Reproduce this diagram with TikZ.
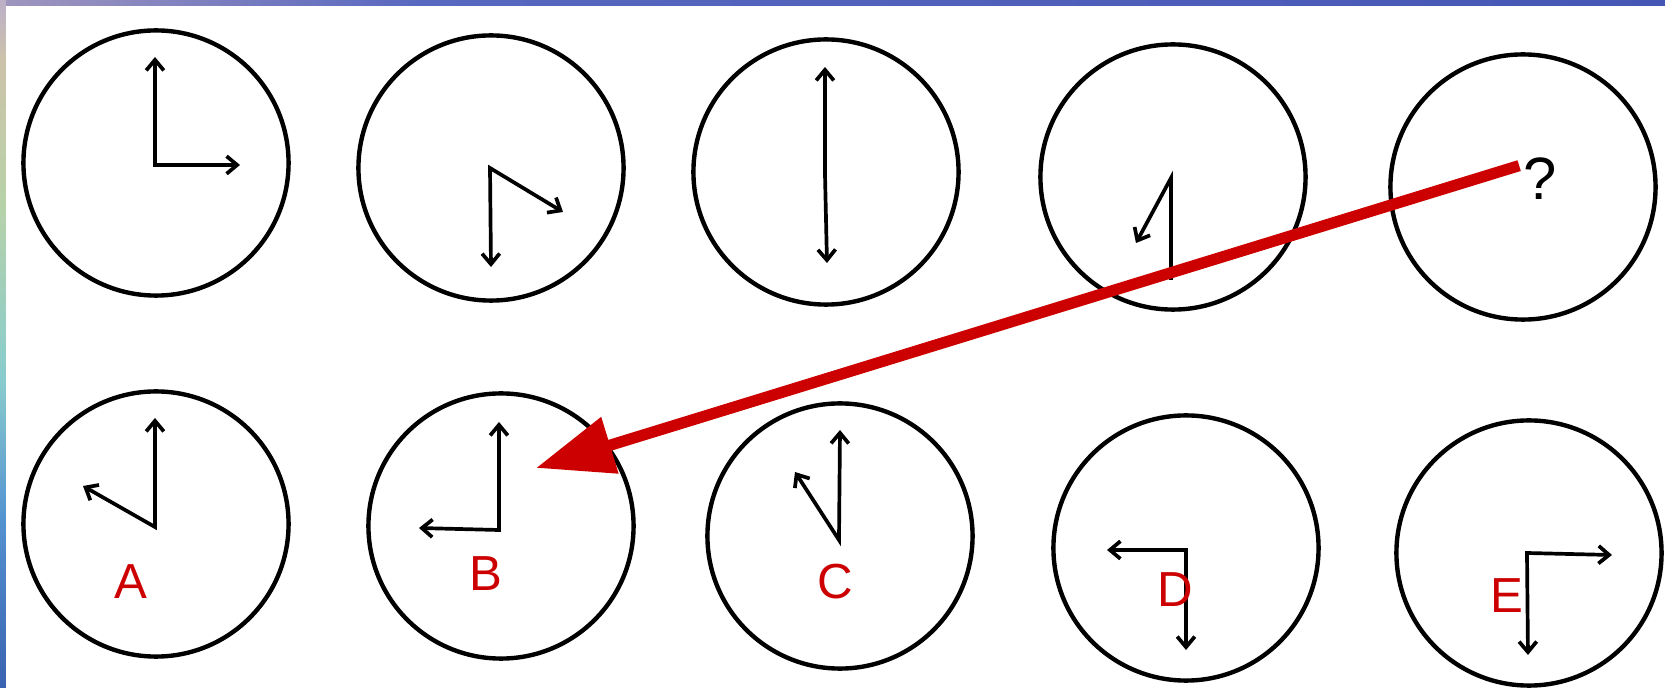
\documentclass[tikz,border=0pt]{standalone}
\usepackage{fontspec}
\setmainfont{Liberation Sans}
\usetikzlibrary{arrows.meta}
\definecolor{ansred}{RGB}{204,0,0}
\definecolor{barL}{RGB}{160,150,190}
\definecolor{barM}{RGB}{88,104,192}
\definecolor{barR}{RGB}{70,86,180}
\definecolor{sideA}{RGB}{188,176,200}
\definecolor{sideB}{RGB}{204,194,170}
\definecolor{sideC}{RGB}{184,210,168}
\definecolor{sideD}{RGB}{136,204,206}
\definecolor{sideE}{RGB}{84,146,208}
\definecolor{sideF}{RGB}{58,98,176}

\begin{document}
\begin{tikzpicture}[x=0.01cm,y=-0.01cm,
  clock/.style={draw,circle,line width=1.25pt,minimum size=2.65cm,inner sep=0pt},
  hand/.style={line width=1.05pt,{Straight Barb[length=3pt,width=5pt]}-{Straight Barb[length=3pt,width=5pt]}},
  lbl/.style={text=ansred,font=\fontsize{14}{17}\selectfont,inner sep=0pt}]
  \useasboundingbox (0,0) rectangle (1665,688);
  \fill[white] (0,0) rectangle (1665,688);
  % frame of the slide
  \shade[left color=barL,right color=barM] (0,0) rectangle (420,6);
  \shade[left color=barM,right color=barR] (420,0) rectangle (1665,6);
  \shade[top color=sideA,bottom color=sideB] (0,0) rectangle (6,60);
  \shade[top color=sideB,bottom color=sideC] (0,60) rectangle (6,200);
  \shade[top color=sideC,bottom color=sideD] (0,200) rectangle (6,380);
  \shade[top color=sideD,bottom color=sideE] (0,380) rectangle (6,520);
  \shade[top color=sideE,bottom color=sideF] (0,520) rectangle (6,688);

  % top row
  \node[clock] (c1) at (156,163) {};
  \node[clock] (c2) at (491,168) {};
  \node[clock] (c3) at (826,172) {};
  \node[clock] (c4) at (1173,177) {};
  \node[clock] (c5) at (1523,187) {};
  \draw[hand] (155,57) -- (155,165) -- (240,165);
  \draw[hand] (491,267) -- (490,168) -- (563,212);
  \draw[hand] (825,67) -- (825,174) -- (827,263);
  \draw[line width=1.05pt,-{Straight Barb[length=3pt,width=5pt]}] (1171,280) -- (1171,178) -- (1136,243);
  \node[font=\fontsize{17}{20}\selectfont,inner sep=0pt] (q) at (1540,179) {?};

  % bottom row
  \node[clock] (ca) at (156,524) {};
  \node[clock] (cb) at (501,526) {};
  \node[clock] (cc) at (840,536) {};
  \node[clock] (cd) at (1186,548) {};
  \node[clock] (ce) at (1529,553) {};
  \draw[hand] (155,418) -- (155,527) -- (83,486);
  \draw[hand] (499,422) -- (499,530) -- (419,528);
  \draw[hand] (840,430) -- (839,540) -- (795,472);
  \draw[hand] (1107,550) -- (1186,550) -- (1186,650);
  \draw[hand] (1612,555) -- (1527,553) -- (1528,655);
  \node[lbl] (la) at (131,582) {A};
  \node[lbl] (lb) at (486,574) {B};
  \node[lbl] (lc) at (835,582) {C};
  \node[lbl] (ld) at (1175,590) {D};
  \node[lbl] (le) at (1507,596) {E};

  % answer arrow
  \coordinate (tip) at (536,468);
  \draw[ansred,line width=3.2pt,-{Triangle[length=22pt,width=16pt]}]
    ([xshift=-1pt,yshift=3.8pt]q.west) -- (tip);
\end{tikzpicture}
\end{document}
